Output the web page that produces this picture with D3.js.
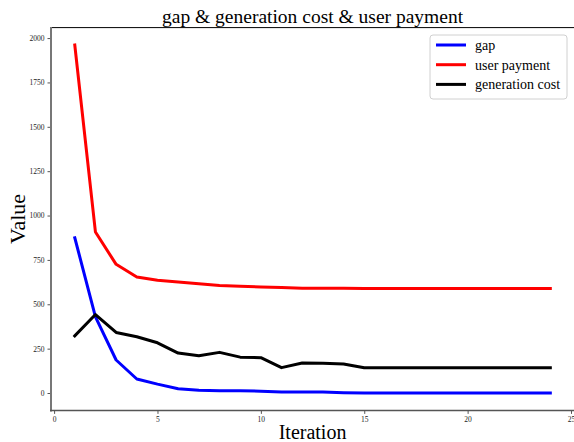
<!DOCTYPE html>
<script src="https://d3js.org/d3.v7.min.js"></script>
<html>
<style>
    body { margin: 0; background: white; }
    text { font-family: "Liberation Serif", "Times New Roman", serif; }
</style>
<body>
<script>

var width = 574,
    height = 442;

// values, iteration 1..24
var iterations = d3.range(1, 25);
var gap = [875, 429, 186, 79, 50, 24, 15, 13, 13, 10, 5, 5, 5, 2, 0.5, 0.5, 0.5, 0.5, 0.5, 0.5, 0.5, 0.5, 0.5, 0.5];
var userPayment = [1961, 907, 725, 654, 635, 626, 615, 606, 602, 598, 594, 590, 590, 590, 589, 589, 589, 589, 589, 589, 589, 589, 589, 589];
var generationCost = [322, 442, 341, 317, 283, 225, 210, 229, 202, 199, 143, 169, 167, 164, 142, 142, 142, 142, 142, 142, 142, 142, 142, 142];

var xTicks = [0, 5, 10, 15, 20, 25];
var yTicks = [0, 250, 500, 750, 1000, 1250, 1500, 1750, 2000];

var series = [
    {name: "gap", values: gap, color: "#0000ff"},
    {name: "user payment", values: userPayment, color: "#ff0000"},
    {name: "generation cost", values: generationCost, color: "#000000"}
];

var svg = d3.select("body").append("svg")
    .attr("width", width)
    .attr("height", height);

var plotLeft = 51, plotRight = 574.1, plotTop = 27.6, plotBottom = 410.4;

var x = d3.scaleLinear().domain([-0.15, 25.15]).range([plotLeft, plotRight]);
var y = d3.scaleLinear().domain([-98, 2059]).range([plotBottom, plotTop]);

// axes
var xAxis = svg.append("g")
    .attr("transform", "translate(0," + plotBottom + ")")
    .call(d3.axisBottom(x).tickValues(xTicks).tickFormat(d3.format("d")).tickSize(3.5).tickPadding(3));
var yAxis = svg.append("g")
    .attr("transform", "translate(" + plotLeft + ",0)")
    .call(d3.axisLeft(y).tickValues(yTicks).tickFormat(d3.format("d")).tickSize(3.5).tickPadding(3));

[xAxis, yAxis].forEach(function(a) {
    a.select(".domain").remove();
    a.attr("font-family", null);
    a.selectAll(".tick line").attr("stroke", "#555").attr("stroke-width", 1);
    a.selectAll(".tick text")
        .attr("fill", "#222")
        .style("font-size", "7.5px");
});

// spines
svg.append("line")
    .attr("x1", plotLeft).attr("x2", plotRight).attr("y1", plotTop).attr("y2", plotTop)
    .attr("stroke", "black").attr("stroke-width", 1);
svg.append("line")
    .attr("x1", plotLeft).attr("x2", plotLeft).attr("y1", plotTop - 0.5).attr("y2", plotBottom + 1)
    .attr("stroke", "#777").attr("stroke-width", 2);
svg.append("line")
    .attr("x1", plotLeft - 1).attr("x2", plotRight).attr("y1", plotBottom).attr("y2", plotBottom)
    .attr("stroke", "#555").attr("stroke-width", 1.5);

// lines
var line = d3.line()
    .x(function(d, i) { return x(iterations[i]); })
    .y(function(d) { return y(d); });

svg.selectAll("path.series")
    .data(series)
    .enter().append("path")
    .attr("class", "series")
    .attr("d", function(d) { return line(d.values); })
    .attr("fill", "none")
    .attr("stroke", function(d) { return d.color; })
    .attr("stroke-width", 3)
    .attr("stroke-linejoin", "round")
    .attr("stroke-linecap", "square");

// titles
svg.append("text")
    .attr("x", (plotLeft + plotRight) / 2)
    .attr("y", 23)
    .attr("text-anchor", "middle")
    .style("font-size", "19.5px")
    .text("gap & generation cost & user payment");

svg.append("text")
    .attr("x", (plotLeft + plotRight) / 2)
    .attr("y", 439)
    .attr("text-anchor", "middle")
    .style("font-size", "20px")
    .text("Iteration");

svg.append("text")
    .attr("transform", "translate(25," + ((plotTop + plotBottom) / 2) + ") rotate(-90)")
    .attr("text-anchor", "middle")
    .style("font-size", "22px")
    .text("Value");

// legend
var legend = svg.append("g").attr("transform", "translate(430,35)");
legend.append("rect")
    .attr("width", 137).attr("height", 64)
    .attr("rx", 3)
    .attr("fill", "white").attr("fill-opacity", 0.8)
    .attr("stroke", "#d0d0d0").attr("stroke-width", 1);

var item = legend.selectAll("g.item")
    .data(series)
    .enter().append("g")
    .attr("class", "item")
    .attr("transform", function(d, i) { return "translate(0," + (10 + i * 19.7) + ")"; });

item.append("line")
    .attr("x1", 6).attr("x2", 36)
    .attr("stroke", function(d) { return d.color; })
    .attr("stroke-width", 3);

item.append("text")
    .attr("x", 45)
    .attr("y", 5)
    .style("font-size", "14px")
    .text(function(d) { return d.name; });

</script>
</body>
</html>
